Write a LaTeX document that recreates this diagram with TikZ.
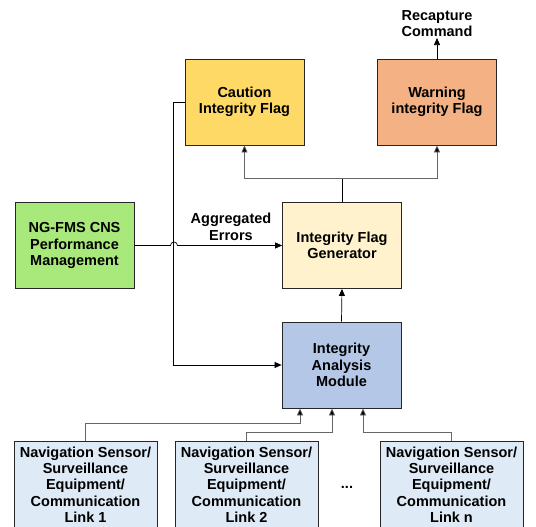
\documentclass[tikz,border=0pt]{standalone}
\usepackage{fontspec}
\setmainfont{Liberation Sans}
\usetikzlibrary{arrows.meta,positioning}
\definecolor{cautionY}{HTML}{FFD966}
\definecolor{warnO}{HTML}{F4B183}
\definecolor{perfG}{HTML}{A9E87A}
\definecolor{genY}{HTML}{FFF2CC}
\definecolor{anaB}{HTML}{B4C7E7}
\definecolor{linkB}{HTML}{DEEBF7}

\begin{document}
\begin{tikzpicture}[x=1pt,y=1pt,
  blk/.style={draw=black!85,line width=0.8pt,minimum width=119pt,minimum height=86pt,inner sep=0pt,align=center,font=\bfseries\fontsize{14.5}{16.5}\selectfont},
  lnk/.style={blk,fill=linkB,minimum width=143pt,font=\bfseries\fontsize{14.5}{16.3}\selectfont},
  lbl/.style={align=center,inner sep=1pt,font=\bfseries\fontsize{14.5}{16.5}\selectfont},
  conn/.style={line width=0.7pt,-{Triangle[length=7pt,width=6pt]}},
  gconn/.style={conn,draw=black!60,-{Triangle[length=7pt,width=6pt,fill=black]}}]
\useasboundingbox (0,0) rectangle (536,527);
% flags
\node[blk,fill=cautionY] (caution) at (244.5,425) {Caution\\Integrity Flag};
\node[blk,fill=warnO] (warning) at (437,425) {Warning\\integrity Flag};
\node[lbl] (recap) at (437,503.5) {Recapture\\Command};
% middle row
\node[blk,fill=perfG] (perf) at (74.5,281.5) {NG-FMS CNS\\Performance\\Management};
\node[blk,fill=genY] (gen) at (342,281.5) {Integrity Flag\\Generator};
\node[lbl] (aggr) at (231,300) {Aggregated\\Errors};
\node[blk,fill=anaB] (ana) at (341.5,162) {Integrity\\Analysis\\Module};
% sources
\node[lnk] (link1) at (85.5,42.5) {Navigation Sensor/\\Surveillance\\Equipment/\\Communication\\Link 1};
\node[lnk] (link2) at (246.5,42.5) {Navigation Sensor/\\Surveillance\\Equipment/\\Communication\\Link 2};
\node[lnk] (linkn) at (451.5,42.5) {Navigation Sensor/\\Surveillance\\Equipment/\\Communication\\Link n};
\node[lbl] (dots) at (347,40) {...};
% connectors
\draw[conn] (warning.north) -- (recap.south);
\draw[line width=0.7pt] (gen.north) -- ++(0,24) coordinate (br);
\draw[gconn] (br) -| (caution.south);
\draw[gconn] (br) -| (warning.south);
\draw[conn] (caution.west) -- ++(-11,0) |- (ana.west);
\draw[conn] (perf.east) -- (170.5,281.5) arc (180:0:3.5) -- (gen.west);
\draw[conn] (ana.north) -- (gen.south);
\draw[gconn] (link1.north) -- ++(0,18) -| ([xshift=-41.5pt]ana.south);
\draw[gconn] (link2.north) -- ++(0,9) -| ([xshift=-9.5pt]ana.south);
\draw[gconn] (linkn.north) -- ++(0,9) -| ([xshift=21.5pt]ana.south);
\end{tikzpicture}
\end{document}
